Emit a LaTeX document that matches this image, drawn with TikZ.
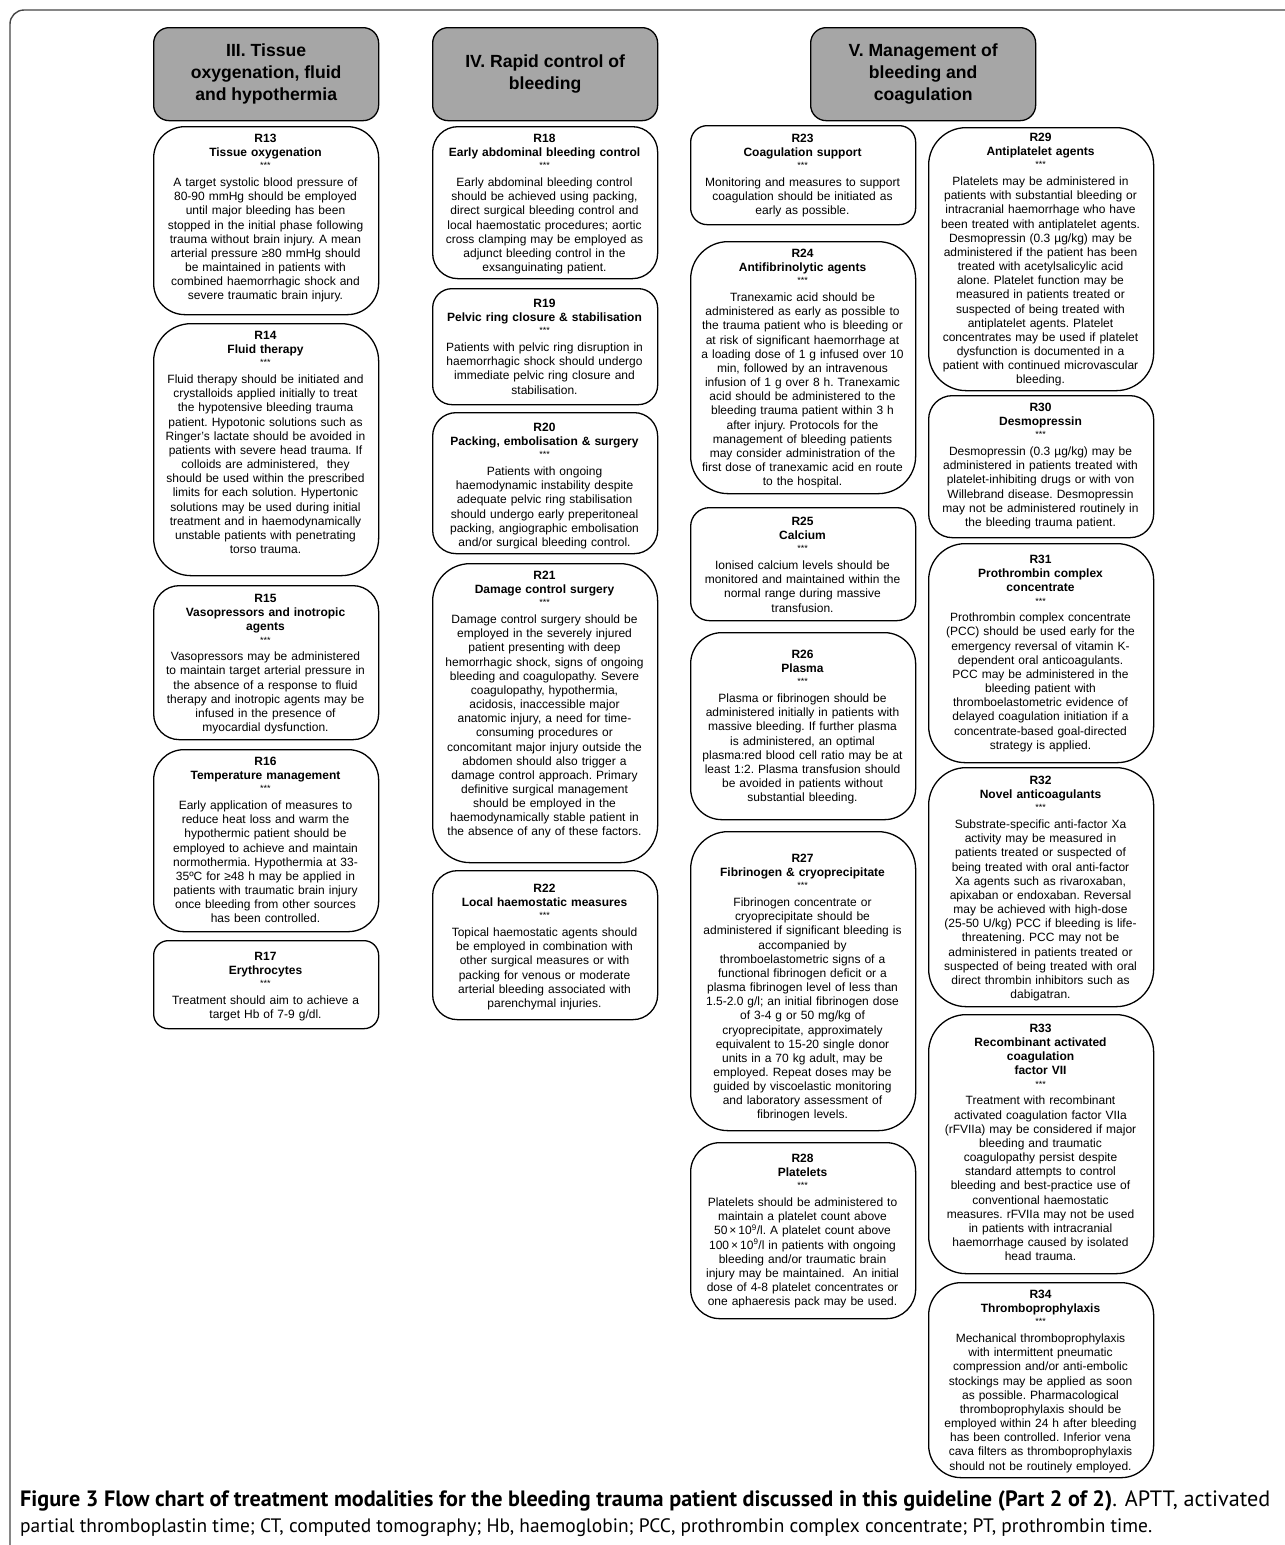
\documentclass[tikz,border=0pt]{standalone}
\usepackage{fontspec}
\usepackage{graphicx}
\setmainfont{Liberation Sans}
\newfontfamily\capfont{PT Sans}
\definecolor{hdrgray}{RGB}{166,166,166}
\definecolor{framegray}{RGB}{70,70,70}
\tikzset{
 rbox/.style={draw=black, line width=1.3pt, fill=white, inner sep=0pt, minimum width=225pt},
 rtext/.style={text width=232pt, align=center, inner sep=0pt, font=\frenchspacing\fontsize{12}{14.15}\selectfont},
 hbox/.style={draw=black, line width=1.3pt, fill=hdrgray, inner sep=0pt, minimum width=225pt, minimum height=93pt, rounded corners=15.5pt, align=center, font=\bfseries\fontsize{17.6}{22}\selectfont},
 frame/.style={draw=framegray, line width=1.4pt, rounded corners=14pt},
 captext/.style={anchor=base west, inner sep=0pt, text=black}
}
\newcommand\hd[2]{\rule{0pt}{10pt}{\bfseries #1}\\{\bfseries #2}\\[-1.95pt]{\fontsize{9}{9}\selectfont ***}\\[3.65pt]}
\newcommand\rec[6]{%
 \pgfmathsetmacro\rr{min(225,#4-#3)/6}%
 \node[rbox, rounded corners=\rr pt, minimum height={(#4-#3)*1pt}, anchor=north west] (#1) at (#2,#3) {};
 \node[rtext, anchor=north] (#1t) at ({#2+112.5},{#5-5.7}) {#6};%
}
\begin{document}
\begin{tikzpicture}[x=1pt,y=-1pt]
\useasboundingbox (0,0) rectangle (1285,1545);
\fill[white] (0,0) rectangle (1285,1545);
\begin{scope}
\clip (0,0) rectangle (1285,1545);
\draw[frame] (10,10) rectangle (1330,1600);
\end{scope}

% headers
\node[hbox, anchor=north west] (h3) at (153,27) {III. Tissue\\oxygenation, fluid\\and hypothermia};
\node[hbox, anchor=north west] (h4) at (432,27) {IV. Rapid control of\\bleeding};
\node[hbox, anchor=north west] (h5) at (810,27) {V. Management of\\bleeding and\\coagulation};

% column 1
\rec{r13}{153}{126}{314}{138}{\hd{R13}{Tissue oxygenation}A target systolic blood pressure of\\80-90 mmHg should be employed\\until major bleeding has been\\stopped in the initial phase following\\trauma without brain injury. A mean\\arterial pressure ≥80 mmHg should\\be maintained in patients with\\combined haemorrhagic shock and\\severe traumatic brain injury.}
\rec{r14}{153}{323}{575}{335}{\hd{R14}{Fluid therapy}Fluid therapy should be initiated and\\crystalloids applied initially to treat\\the hypotensive bleeding trauma\\patient. Hypotonic solutions such as\\Ringer's lactate should be avoided in\\patients with severe head trauma. If\\colloids are administered,\ \ they\\should be used within the prescribed\\limits for each solution. Hypertonic\\solutions may be used during initial\\treatment and in haemodynamically\\unstable patients with penetrating\\torso trauma.}
\rec{r15}{153}{585}{739}{598}{\hd{R15}{Vasopressors and inotropic\\agents}Vasopressors may be administered\\to maintain target arterial pressure in\\the absence of a response to fluid\\therapy and inotropic agents may be\\infused in the presence of\\myocardial dysfunction.}
\rec{r16}{153}{749}{931}{761}{\hd{R16}{Temperature management}Early application of measures to\\reduce heat loss and warm the\\hypothermic patient should be\\employed to achieve and maintain\\normothermia. Hypothermia at 33-\\35ºC for ≥48 h may be applied in\\patients with traumatic brain injury\\once bleeding from other sources\\has been controlled.}
\rec{r17}{153}{940}{1028}{956}{\hd{R17}{Erythrocytes}Treatment should aim to achieve a\\target Hb of 7-9 g/dl.}

% column 2
\rec{r18}{432}{126}{278}{138}{\hd{R18}{Early abdominal bleeding control}Early abdominal bleeding control\\should be achieved using packing,\\direct surgical bleeding control and\\local haemostatic procedures; aortic\\cross clamping may be employed as\\adjunct bleeding control in the\\exsanguinating patient.}
\rec{r19}{432}{288}{404}{303}{\hd{R19}{Pelvic ring closure \& stabilisation}Patients with pelvic ring disruption in\\haemorrhagic shock should undergo\\immediate pelvic ring closure and\\stabilisation.}
\rec{r20}{432}{412}{553}{427}{\hd{R20}{Packing, embolisation \& surgery}Patients with ongoing\\haemodynamic instability despite\\adequate pelvic ring stabilisation\\should undergo early preperitoneal\\packing, angiographic embolisation\\and/or surgical bleeding control.}
\rec{r21}{432}{563}{862}{575}{\hd{R21}{Damage control surgery}Damage control surgery should be\\employed in the severely injured\\patient presenting with deep\\hemorrhagic shock, signs of ongoing\\bleeding and coagulopathy. Severe\\coagulopathy, hypothermia,\\acidosis, inaccessible major\\anatomic injury, a need for time-\\consuming procedures or\\concomitant major injury outside the\\abdomen should also trigger a\\damage control approach. Primary\\definitive surgical management\\should be employed in the\\haemodynamically stable patient in\\the absence of any of these factors.}
\rec{r22}{432}{870}{1019}{888}{\hd{R22}{Local haemostatic measures}Topical haemostatic agents should\\be employed in combination with\\other surgical measures or with\\packing for venous or moderate\\arterial bleeding associated with\\parenchymal injuries.}

% column 3
\rec{r23}{690}{125}{224}{138}{\hd{R23}{Coagulation support}Monitoring and measures to support\\coagulation should be initiated as\\early as possible.}
\rec{r24}{690}{241}{493}{253}{\hd{R24}{Antifibrinolytic agents}Tranexamic acid should be\\administered as early as possible to\\the trauma patient who is bleeding or\\at risk of significant haemorrhage at\\a loading dose of 1 g infused over 10\\min, followed by an intravenous\\infusion of 1 g over 8 h. Tranexamic\\acid should be administered to the\\bleeding trauma patient within 3 h\\after injury. Protocols for the\\management of bleeding patients\\may consider administration of the\\first dose of tranexamic acid en route\\to the hospital.}
\rec{r25}{690}{507}{620}{521}{\hd{R25}{Calcium}Ionised calcium levels should be\\monitored and maintained within the\\normal range during massive\\transfusion.}
\rec{r26}{690}{632}{819}{654}{\hd{R26}{Plasma}Plasma or fibrinogen should be\\administered initially in patients with\\massive bleeding. If further plasma\\is administered, an optimal\\plasma:red blood cell ratio may be at\\least 1:2. Plasma transfusion should\\be avoided in patients without\\substantial bleeding.}
\rec{r27}{690}{831}{1130}{858}{\hd{R27}{Fibrinogen \& cryoprecipitate}Fibrinogen concentrate or\\cryoprecipitate should be\\administered if significant bleeding is\\accompanied by\\thromboelastometric signs of a\\functional fibrinogen deficit or a\\plasma fibrinogen level of less than\\1.5-2.0 g/l; an initial fibrinogen dose\\of 3-4 g or 50 mg/kg of\\cryoprecipitate, approximately\\equivalent to 15-20 single donor\\units in a 70 kg adult, may be\\employed. Repeat doses may be\\guided by viscoelastic monitoring\\and laboratory assessment of\\fibrinogen levels.}
\rec{r28}{690}{1142}{1318}{1158}{\hd{R28}{Platelets}Platelets should be administered to\\maintain a platelet count above\\50\,×\,10\textsuperscript{9}/l. A platelet count above\\100\,×\,10\textsuperscript{9}/l in patients with ongoing\\bleeding and/or traumatic brain\\injury may be maintained.\ \ An initial\\dose of 4-8 platelet concentrates or\\one aphaeresis pack may be used.}

% column 4
\rec{r29}{928}{127}{390}{137}{\hd{R29}{Antiplatelet agents}Platelets may be administered in\\patients with substantial bleeding or\\intracranial haemorrhage who have\\been treated with antiplatelet agents.\\Desmopressin (0.3 µg/kg) may be\\administered if the patient has been\\treated with acetylsalicylic acid\\alone. Platelet function may be\\measured in patients treated or\\suspected of being treated with\\antiplatelet agents. Platelet\\concentrates may be used if platelet\\dysfunction is documented in a\\patient with continued microvascular\\bleeding.}
\rec{r30}{928}{395}{537}{407}{\hd{R30}{Desmopressin}Desmopressin (0.3 µg/kg) may be\\administered in patients treated with\\platelet-inhibiting drugs or with von\\Willebrand disease. Desmopressin\\may not be administered routinely in\\the bleeding trauma patient.}
\rec{r31}{928}{543}{762}{559}{\hd{R31}{Prothrombin complex\\concentrate}Prothrombin complex concentrate\\(PCC) should be used early for the\\emergency reversal of vitamin K-\\dependent oral anticoagulants.\\PCC may be administered in the\\bleeding patient with\\thromboelastometric evidence of\\delayed coagulation initiation if a\\concentrate-based goal-directed\\strategy is applied.}
\rec{r32}{928}{767}{1006}{780}{\hd{R32}{Novel anticoagulants}Substrate-specific anti-factor Xa\\activity may be measured in\\patients treated or suspected of\\being treated with oral anti-factor\\Xa agents such as rivaroxaban,\\apixaban or endoxaban. Reversal\\may be achieved with high-dose\\(25-50 U/kg) PCC if bleeding is life-\\threatening. PCC may not be\\administered in patients treated or\\suspected of being treated with oral\\direct thrombin inhibitors such as\\dabigatran.}
\rec{r33}{928}{1014}{1273}{1028}{\hd{R33}{Recombinant activated\\coagulation\\factor VII}Treatment with recombinant\\activated coagulation factor VIIa\\(rFVIIa) may be considered if major\\bleeding and traumatic\\coagulopathy persist despite\\standard attempts to control\\bleeding and best-practice use of\\conventional haemostatic\\measures. rFVIIa may not be used\\in patients with intracranial\\haemorrhage caused by isolated\\head trauma.}
\rec{r34}{928}{1282}{1477}{1294}{\hd{R34}{Thromboprophylaxis}Mechanical thromboprophylaxis\\with intermittent pneumatic\\compression and/or anti-embolic\\stockings may be applied as soon\\as possible. Pharmacological\\thromboprophylaxis should be\\employed within 24 h after bleeding\\has been controlled. Inferior vena\\cava filters as thromboprophylaxis\\should not be routinely employed.}

% caption
\node[captext] (cap1) at (20,1506) {\resizebox{1250pt}{!}{\capfont\fontsize{18}{22}\selectfont\textbf{Figure 3 Flow chart of treatment modalities for the bleeding trauma patient discussed in this guideline (Part 2 of 2)}. APTT, activated}};
\node[captext] (cap2) at (20,1532) {\resizebox{1132pt}{!}{\capfont\fontsize{18}{22}\selectfont partial thromboplastin time; CT, computed tomography; Hb, haemoglobin; PCC, prothrombin complex concentrate; PT, prothrombin time.}};
\end{tikzpicture}
\end{document}
